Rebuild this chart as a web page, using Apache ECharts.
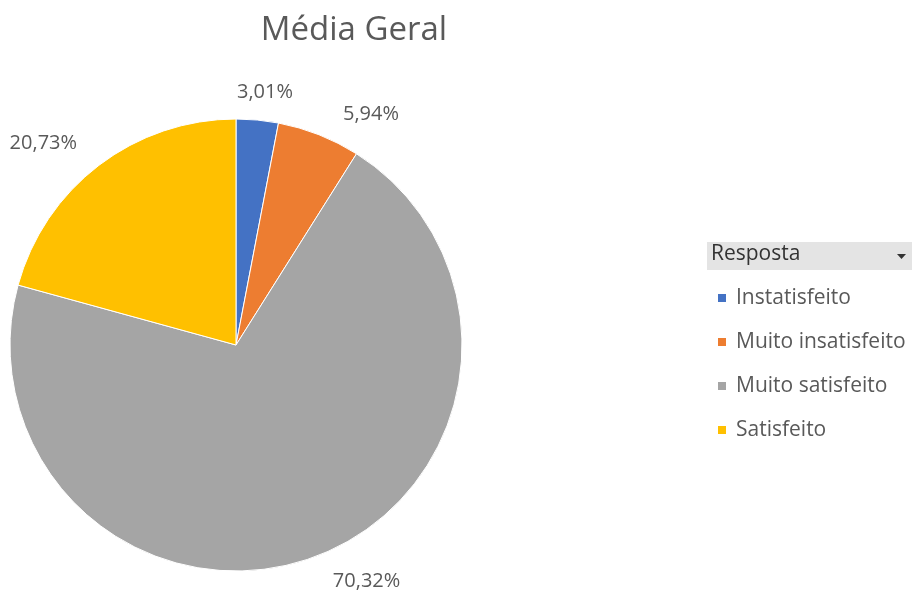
<!DOCTYPE html>
<html lang="pt">
<head>
    <meta charset="utf-8">
    <title>Média Geral</title>
    <script src="https://cdn.jsdelivr.net/npm/echarts@6/dist/echarts.min.js"></script>
    <style>
        html, body { margin: 0; padding: 0; background: #fff; }
        #chart { width: 915px; height: 592px; }
    </style>
</head>
<body>
    <div id="chart"></div>
    <script>
        // dados
        var categorias = ["Instatisfeito", "Muito insatisfeito", "Muito satisfeito", "Satisfeito"];
        var valores = [3.01, 5.94, 70.32, 20.73];
        var cores = ["#4472C4", "#ED7D31", "#A5A5A5", "#FFC000"];

        var fonte = "'Open Sans', 'Noto Sans', sans-serif";

        var pieData = [];
        for (var i = 0; i < categorias.length; i++) {
            pieData.push({ name: categorias[i], value: valores[i], itemStyle: { color: cores[i] } });
        }

        var myChart = echarts.init(document.getElementById('chart'));
        myChart.setOption({
            animation: false,
            title: {
                text: 'Média Geral',
                left: 349, top: 9,
                textAlign: 'center',
                textStyle: { fontFamily: fonte, fontSize: 33, fontWeight: 'normal', color: '#595959' }
            },
            legend: {
                orient: 'vertical',
                left: 716, top: 287,
                padding: 0,
                icon: 'rect',
                itemWidth: 10, itemHeight: 10,
                itemGap: 22,
                data: categorias,
                textStyle: { fontFamily: fonte, fontSize: 21, lineHeight: 22, color: '#595959', padding: [0, 0, 0, 4] }
            },
            graphic: [
                { type: 'rect', shape: { x: 707, y: 242, width: 205, height: 28 },
                  style: { fill: '#e4e4e4' } },
                { type: 'text', left: 711, top: 244,
                  style: { text: 'Resposta', font: '21px ' + fonte, fill: '#333333' } },
                { type: 'polygon', shape: { points: [[897, 254], [906, 254], [901.5, 259]] },
                  style: { fill: '#333333' } }
            ],
            series: [{
                type: 'pie',
                center: [236, 345],
                radius: 226,
                startAngle: 90,
                clockwise: true,
                data: pieData,
                itemStyle: { borderColor: '#fff', borderWidth: 1 },
                label: {
                    show: true,
                    position: 'outside',
                    overflow: 'none',
                    fontFamily: fonte,
                    fontSize: 20,
                    color: '#595959',
                    formatter: function (p) {
                        return p.value.toFixed(2).replace('.', ',') + '%';
                    }
                },
                labelLine: { show: false, length: 28, length2: 0 },
                // rótulos quase verticais ficam centrados, como no Excel
                labelLayout: function (params) {
                    var pts = params.labelLinePoints;
                    if (!pts) return {};
                    var dx = pts[1][0] - pts[0][0];
                    var dy = pts[1][1] - pts[0][1];
                    if (Math.abs(dx) < 0.2 * Math.sqrt(dx * dx + dy * dy)) {
                        return { align: 'center' };
                    }
                    return {};
                },
                emphasis: { disabled: true }
            }]
        });
    </script>
</body>
</html>
